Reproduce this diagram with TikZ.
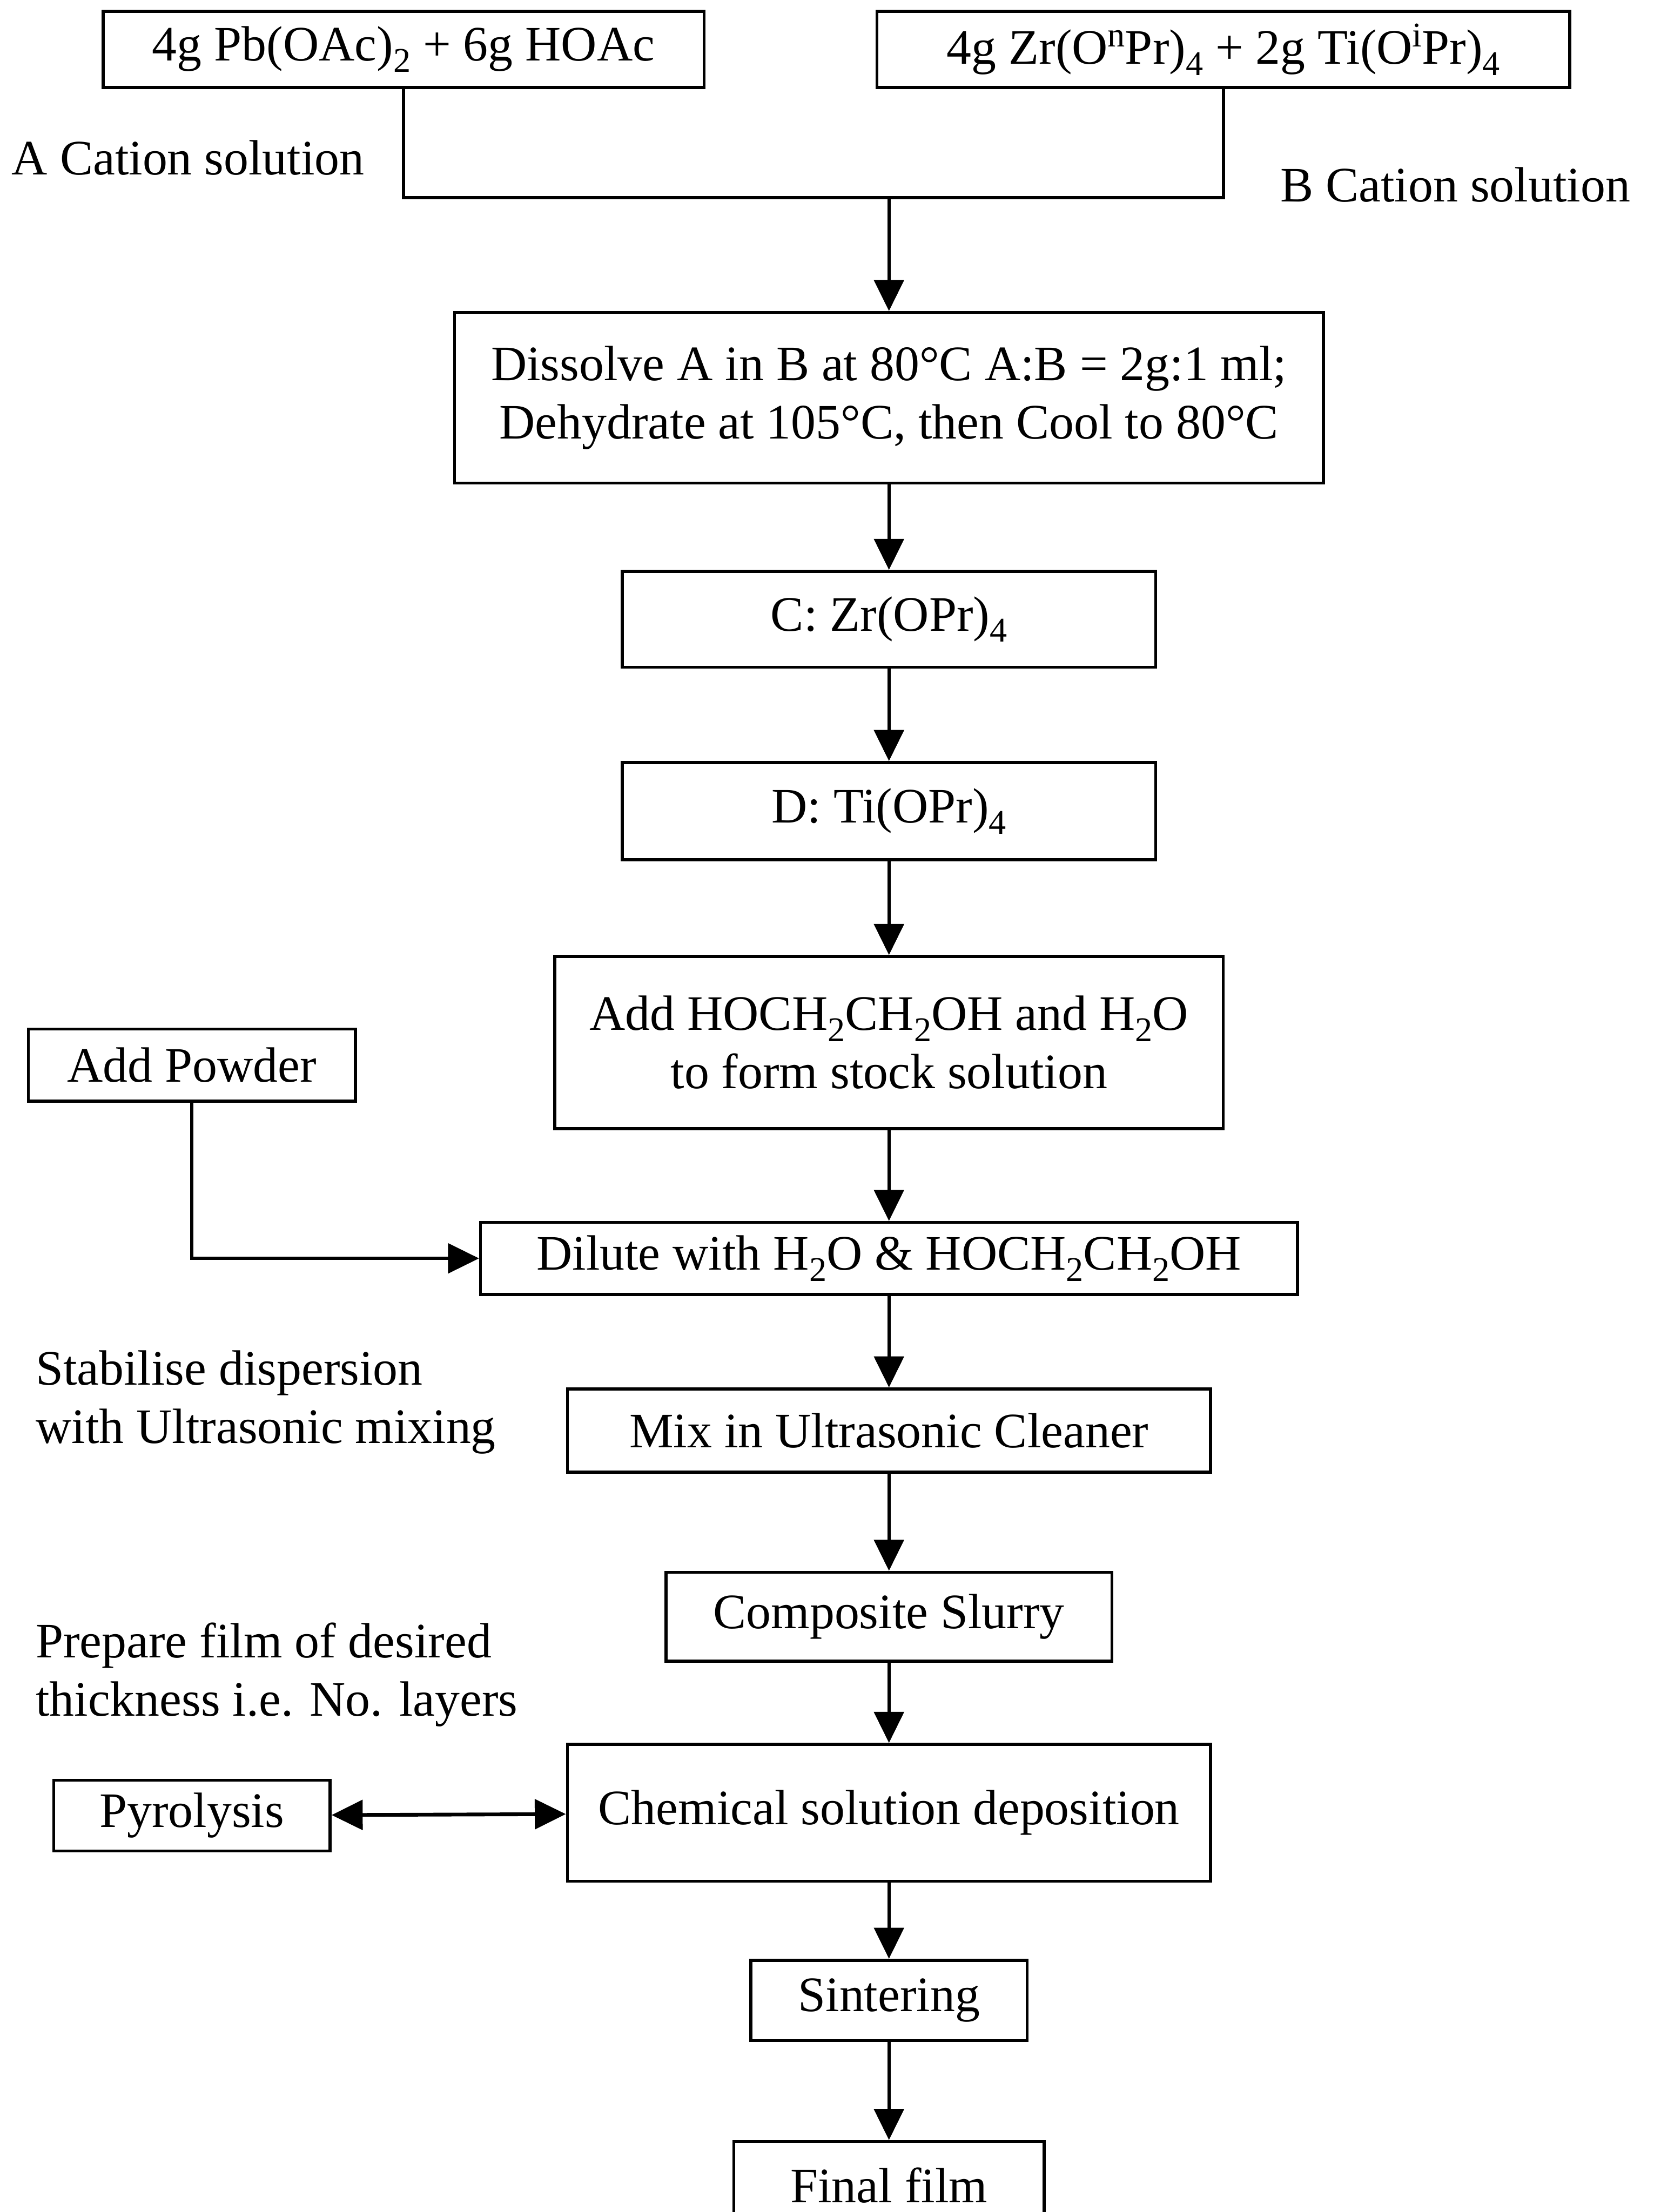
\documentclass[tikz,border=0pt]{standalone}
\usepackage{fontspec}
\setmainfont{Liberation Serif}
\usetikzlibrary{arrows.meta, positioning}
\newcommand{\chsub}[1]{\raisebox{-4.5pt}{\fontsize{14}{14}\selectfont #1}}
\newcommand{\chsup}[1]{\raisebox{7pt}{\fontsize{14}{14}\selectfont #1}}
\tikzset{
    box/.style={rectangle, draw, line width=1.2pt, align=center, inner sep=0pt, font=\fontsize{20}{23.5}\selectfont},
    note/.style={anchor=west, align=left, inner sep=0pt, font=\fontsize{20}{23.5}\selectfont},
    link/.style={line width=1.3pt},
    arrow/.style={-{Triangle[length=0.44cm, width=0.42cm]}, line width=1.4pt},
    twoway/.style={{Triangle[length=0.44cm, width=0.42cm]}-{Triangle[length=0.44cm, width=0.42cm]}, line width=1.5pt}
}

\begin{document}
\begin{tikzpicture}[x=0.02cm, y=-0.02cm]
        \useasboundingbox (0,0) rectangle (1172,1568);
        % starting materials
        \node[box, minimum width=8.52cm, minimum height=1.08cm] (lead) at (286,35) {4g Pb(OAc)\chsub{2} + 6g HOAc};
        \node[box, minimum width=9.82cm, minimum height=1.08cm] (alkox) at (867,35) {4g Zr(O\chsup{n}Pr)\chsub{4} + 2g Ti(O\chsup{i}Pr)\chsub{4}};
        \node[note] (acat) at (8,112) {A Cation solution};
        \node[note] (bcat) at (907,131) {B Cation solution};
        \coordinate (join) at (630,140);
        % main column
        \node[box, minimum width=12.32cm, minimum height=2.42cm] (dissolve) at (630,282) {Dissolve A in B at 80°C A:B = 2g:1 ml;\\ Dehydrate at 105°C, then Cool to 80°C};
        \node[box, minimum width=7.56cm, minimum height=1.36cm] (zrc) at (630,439) {C: Zr(OPr)\chsub{4}};
        \node[box, minimum width=7.56cm, minimum height=1.38cm] (tid) at (630,575) {D: Ti(OPr)\chsub{4}};
        \node[box, minimum width=9.48cm, minimum height=2.44cm] (stock) at (630,739) {Add HOCH\chsub{2}CH\chsub{2}OH and H\chsub{2}O\\to form stock solution};
        \node[box, minimum width=4.64cm, minimum height=1.02cm] (powder) at (136,755) {Add Powder};
        \node[box, minimum width=11.58cm, minimum height=1.02cm] (dilute) at (630,892) {Dilute with H\chsub{2}O \& HOCH\chsub{2}CH\chsub{2}OH};
        \node[note] (stab) at (25,994) {Stabilise dispersion\\with Ultrasonic mixing};
        \node[box, minimum width=9.12cm, minimum height=1.18cm] (mix) at (630,1014) {Mix in Ultrasonic Cleaner};
        \node[box, minimum width=6.32cm, minimum height=1.26cm] (slurry) at (630,1146) {Composite Slurry};
        \node[note] (prep) at (25,1187) {Prepare film of desired\\thickness i.e. No. layers};
        \node[box, minimum width=9.12cm, minimum height=1.94cm] (csd) at (630,1285) {Chemical solution deposition};
        \node[box, minimum width=3.92cm, minimum height=1.0cm] (pyro) at (136,1287) {Pyrolysis};
        \node[box, minimum width=3.92cm, minimum height=1.14cm] (sinter) at (630,1418) {Sintering};
        \node[box, minimum width=4.4cm, minimum height=1.24cm] (final) at (630,1549) {Final film};
        % connectors
        \draw[link] (lead.south) |- (join) -| (alkox.south);
        \draw[arrow] (join) -- (dissolve);
        \draw[arrow] (dissolve) -- (zrc);
        \draw[arrow] (zrc) -- (tid);
        \draw[arrow] (tid) -- (stock);
        \draw[arrow] (stock) -- (dilute);
        \draw[arrow] (powder.south) |- (dilute.west);
        \draw[arrow] (dilute) -- (mix);
        \draw[arrow] (mix) -- (slurry);
        \draw[arrow] (slurry) -- (csd);
        \draw[twoway] (pyro) -- (csd);
        \draw[arrow] (csd) -- (sinter);
        \draw[arrow] (sinter) -- (final);
    \end{tikzpicture}
\end{document}
